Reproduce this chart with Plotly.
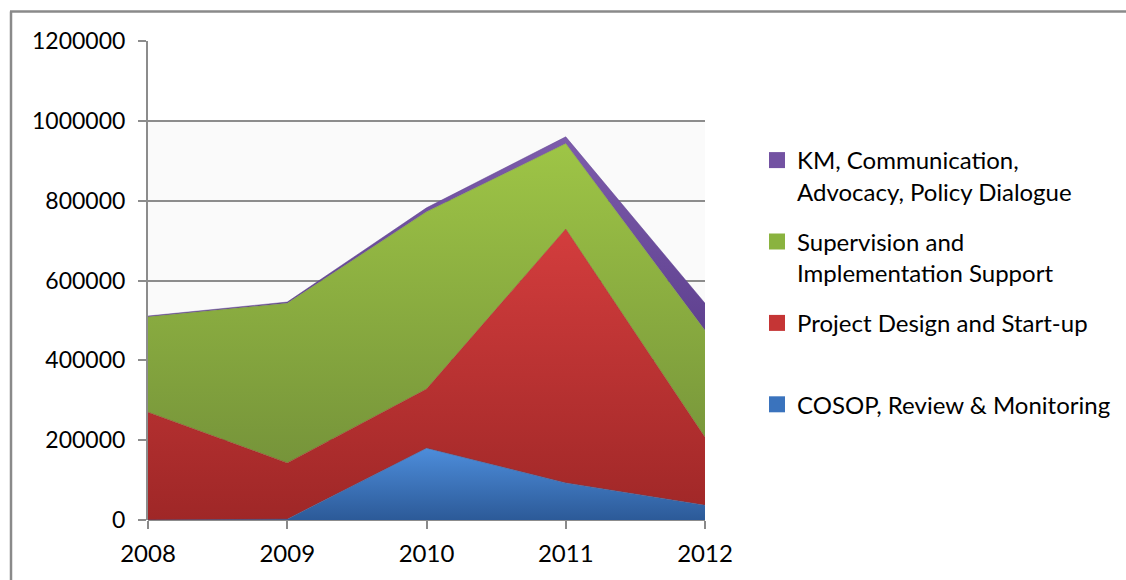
import plotly.graph_objects as go

years = [2008, 2009, 2010, 2011, 2012]
cosop = [0, 2000, 180000, 93000, 37000]
design = [270000, 141000, 148000, 636000, 170000]
supervision = [239000, 400000, 444000, 214000, 268000]
km = [2000, 3000, 10000, 17000, 68000]

series_names = [
    "COSOP, Review & Monitoring",
    "Project Design and Start-up",
    "Supervision and<br>Implementation Support",
    "KM, Communication,<br>Advocacy, Policy Dialogue",
]
legend_labels = [
    "COSOP, Review & Monitoring<br> ",
    "Project Design and Start-up<br> ",
    "Supervision and<br>Implementation Support",
    "KM, Communication,<br>Advocacy, Policy Dialogue",
]
series_values = [cosop, design, supervision, km]
top_colors = ["#4d8ddb", "#d33d3d", "#9ec546", "#7d5cab"]
bottom_colors = ["#2c5a98", "#9f2727", "#76943a", "#5f4190"]
legend_colors = ["#3a73bd", "#c53535", "#8ab33f", "#7352a2"]

FONT = "Lato"
FS = 24

fig = go.Figure()

for name, vals, ct, cb in zip(series_names, series_values, top_colors, bottom_colors):
    fig.add_trace(go.Scatter(
        x=years, y=vals, name=name, stackgroup="one", mode="lines",
        line=dict(width=0.5, color=cb),
        fillgradient=dict(type="vertical", colorscale=[[0, cb], [1, ct]]),
        showlegend=False, hoverinfo="x+y+name",
    ))

# legend entries, top to bottom (reverse of stacking order)
for i in reversed(range(len(legend_labels))):
    fig.add_trace(go.Scatter(
        x=[None], y=[None], name=legend_labels[i], mode="markers",
        marker=dict(symbol="square", size=16, color=legend_colors[i]),
        legendgroup="g%d" % i, showlegend=True,
    ))

# plot area left, top, right, bottom in pixels
L, T, R, B = 148, 41, 705, 520
W, H = R - L, B - T

def px_x(p):
    return (p - L) / W

def px_y(p):
    return (B - p) / H

shapes = [
    dict(type="rect", xref="x", yref="y", x0=2008, x1=2012, y0=0, y1=1000000,
         fillcolor="#fafafa", line=dict(width=0), layer="below"),
    dict(type="line", xref="paper", yref="paper", x0=px_x(10), x1=px_x(1140),
         y0=px_y(11.5), y1=px_y(11.5), line=dict(color="#8a8a8a", width=2.5)),
    dict(type="line", xref="paper", yref="paper", x0=px_x(11), x1=px_x(11),
         y0=px_y(11.5), y1=px_y(600), line=dict(color="#8a8a8a", width=2.5)),
]

fig.update_layout(
    width=1126, height=580,
    margin=dict(l=L, r=1126 - R, t=T, b=580 - B),
    paper_bgcolor="white", plot_bgcolor="white",
    font=dict(family=FONT, size=FS, color="black"),
    showlegend=True,
    legend=dict(
        xref="container", yref="container",
        x=757 / 1126, y=1 - 138 / 580, xanchor="left", yanchor="top",
        traceorder="grouped", valign="top", tracegroupgap=16,
        maxheight=440,
        font=dict(family=FONT, size=FS, color="black"),
        bgcolor="rgba(0,0,0,0)",
    ),
    xaxis=dict(
        range=[2008, 2012], tickvals=years, ticktext=[str(y) for y in years],
        showgrid=False, zeroline=False, showline=False,
        ticks="outside", ticklen=8, tickcolor="#8a8a8a", tickwidth=2,
        tickfont=dict(size=FS), fixedrange=True, ticklabelstandoff=4,
    ),
    yaxis=dict(
        range=[0, 1200000], dtick=200000, tickformat="d",
        showgrid=True, gridcolor="#8c8c8c", gridwidth=2,
        zeroline=True, zerolinecolor="#8c8c8c", zerolinewidth=2,
        showline=True, linecolor="#8c8c8c", linewidth=2,
        ticks="outside", ticklen=8, tickcolor="#8c8c8c", tickwidth=2,
        tickfont=dict(size=23), fixedrange=True, layer="below traces",
        ticklabelstandoff=8,
    ),
    shapes=shapes,
)

fig.write_html("out.html", config={"displayModeBar": False},
               post_script="document.body.style.margin='0';")
